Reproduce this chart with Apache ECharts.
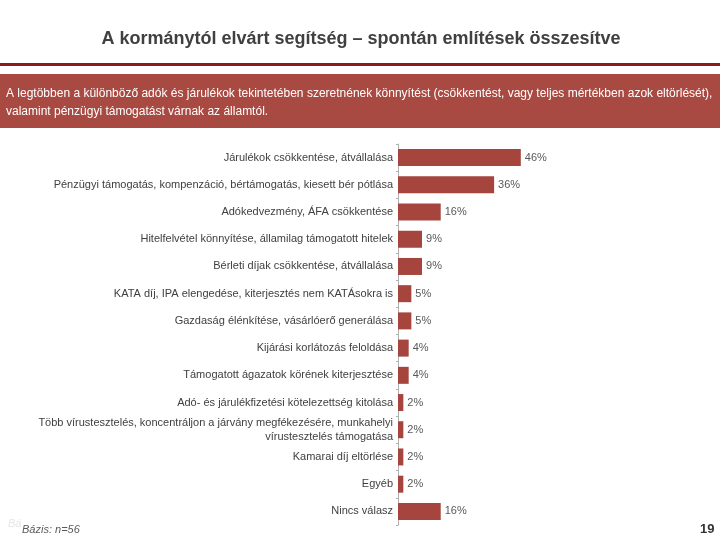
<!DOCTYPE html>
<html><head><meta charset="utf-8">
<script src="https://cdn.jsdelivr.net/npm/echarts@6/dist/echarts.min.js"></script>
<style>html,body{margin:0;padding:0;background:#fff}#c{width:720px;height:540px}</style>
</head><body><div id="c"></div>
<script>
const categories = [
  "Járulékok csökkentése, átvállalása",
  "Pénzügyi támogatás, kompenzáció, bértámogatás, kiesett bér pótlása",
  "Adókedvezmény, ÁFA csökkentése",
  "Hitelfelvétel könnyítése, államilag támogatott hitelek",
  "Bérleti díjak csökkentése, átvállalása",
  "KATA díj, IPA elengedése, kiterjesztés nem KATÁsokra is",
  "Gazdaság élénkítése, vásárlóerő generálása",
  "Kijárási korlátozás feloldása",
  "Támogatott ágazatok körének kiterjesztése",
  "Adó- és járulékfizetési kötelezettség kitolása",
  "Több vírustesztelés, koncentráljon a járvány megfékezésére, munkahelyi\nvírustesztelés támogatása",
  "Kamarai díj eltörlése",
  "Egyéb",
  "Nincs válasz"
];
const values = [46, 36, 16, 9, 9, 5, 5, 4, 4, 2, 2, 2, 2, 16];
const titleText = "A kormánytól elvárt segítség – spontán említések összesítve";
const boxLine1 = "A legtöbben a különböző adók és járulékok tekintetében szeretnének könnyítést (csökkentést, vagy teljes mértékben azok eltörlését),";
const boxLine2 = "valamint pénzügyi támogatást várnak az államtól.";
const baseText = "Bázis: n=56";
const pageNum = "19";

const chart = echarts.init(document.getElementById('c'), null, {renderer: 'canvas'});
chart.setOption({
  backgroundColor: '#fff',
  animation: false,
  title: {
    text: titleText, left: 356, top: 25, textAlign: 'center',
    textStyle: {fontFamily: 'Liberation Sans, Arial, sans-serif', fontSize: 18, fontWeight: 'bold', color: '#404040'}
  },
  grid: {left: 398, top: 144, width: 267, height: 381, containLabel: false},
  xAxis: {type: 'value', min: 0, max: 100, show: false},
  yAxis: {
    type: 'category', data: categories, inverse: true,
    axisLine: {show: true, lineStyle: {color: '#b0b0b0', width: 1}},
    axisTick: {show: true, length: 2, lineStyle: {color: '#b0b0b0'}},
    axisLabel: {
      margin: 5, fontFamily: 'Liberation Sans, Arial, sans-serif', fontSize: 11,
      color: '#404040', lineHeight: 14, align: 'right'
    }
  },
  series: [{
    type: 'bar', data: values, barWidth: 17,
    itemStyle: {color: '#a5453e'},
    label: {
      show: true, position: 'right', distance: 4, formatter: '{c}%',
      fontFamily: 'Liberation Sans, Arial, sans-serif', fontSize: 11, color: '#595959'
    }
  }],
  graphic: [
    {type: 'rect', shape: {x: 0, y: 63, width: 720, height: 3}, style: {fill: '#8e1b1b'}},
    {type: 'rect', shape: {x: 0, y: 74, width: 720, height: 54}, style: {fill: '#a84a42'}},
    {type: 'text', left: 6, top: 88, style: {text: boxLine1, fill: '#ffffff', font: '12px "Liberation Sans", Arial, sans-serif'}},
    {type: 'text', left: 6, top: 106, style: {text: boxLine2, fill: '#ffffff', font: '12px "Liberation Sans", Arial, sans-serif'}},
    {type: 'text', left: 8, top: 518, style: {text: 'Bá', fill: '#e6e6e6', font: 'italic 11px "Liberation Sans", Arial, sans-serif'}},
    {type: 'text', left: 22, top: 524, style: {text: baseText, fill: '#595959', font: 'italic 11px "Liberation Sans", Arial, sans-serif'}},
    {type: 'text', left: 700, top: 523, style: {text: pageNum, fill: '#333333', font: 'bold 13px "Liberation Sans", Arial, sans-serif'}}
  ]
});
</script></body></html>
